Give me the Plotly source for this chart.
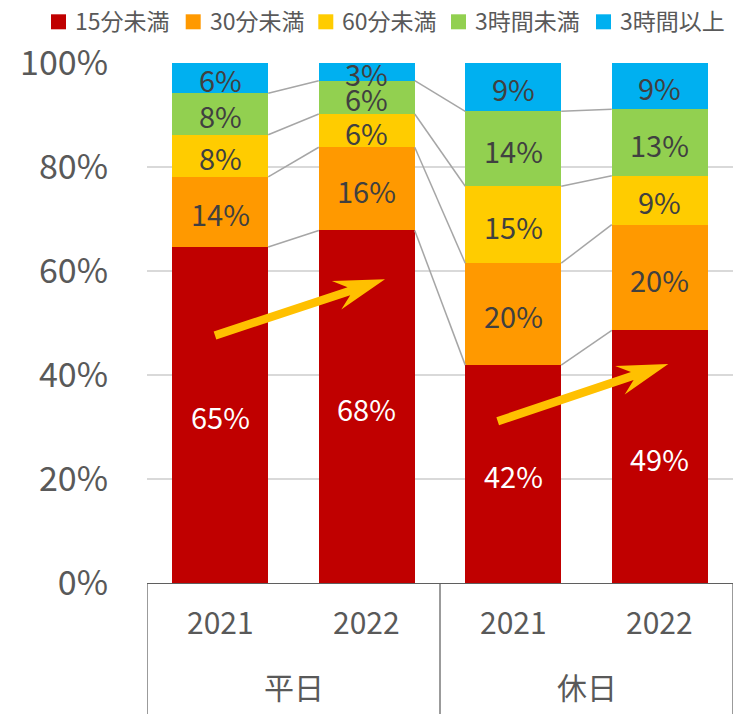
import math
import plotly.graph_objects as go

# ---- data ----
groups = ["平日", "平日", "休日", "休日"]
years = ["2021", "2022", "2021", "2022"]
series_names = ["15分未満", "30分未満", "60分未満", "3時間未満", "3時間以上"]
v_15min = [64.6, 67.8, 41.9, 48.6]
v_30min = [13.5, 16.0, 19.6, 20.3]
v_60min = [8.1, 6.4, 14.8, 9.4]
v_3h_under = [8.0, 6.4, 14.4, 12.8]
v_3h_over = [5.8, 3.4, 9.3, 8.9]
series_values = [v_15min, v_30min, v_60min, v_3h_under, v_3h_over]
colors = ["#C00000", "#FF9900", "#FFCC00", "#92D050", "#00B0F0"]
y_ticks = [0, 20, 40, 60, 80, 100]

FONT = "Noto Sans CJK JP"
W, H = 740, 714
ML, MR, MT, MB = 147, 7, 63, 131
PW, PH = W - ML - MR, H - MT - MB
BAR_W = 0.655

xs = list(range(len(years)))
fig = go.Figure()

for name, vals, col in zip(series_names, series_values, colors):
    fig.add_trace(go.Bar(
        x=xs, y=vals, name=name, width=BAR_W,
        marker=dict(color=col, line=dict(width=0)),
        showlegend=False, hoverinfo="skip",
    ))

# connector lines between adjacent bars
cum = [0.0] * len(xs)
cx, cy = [], []
for vals in series_values[:-1]:
    cum = [c + v for c, v in zip(cum, vals)]
    for i in range(len(xs) - 1):
        cx += [xs[i] + BAR_W / 2, xs[i + 1] - BAR_W / 2, None]
        cy += [cum[i], cum[i + 1], None]
fig.add_trace(go.Scatter(x=cx, y=cy, mode="lines", showlegend=False,
                         line=dict(color="#A6A6A6", width=1.5), hoverinfo="skip"))


def p2paper(px, py):
    return (px - ML) / PW, (H - MB - py) / PH


shapes = []
annotations = []

# data labels at segment centres
base = [0.0] * len(xs)
for vals, col in zip(series_values, colors):
    for i, v in enumerate(vals):
        annotations.append(dict(
            x=xs[i], y=base[i] + v / 2, xref="x", yref="y",
            text=f"{v:.0f}%", showarrow=False, yshift=-1,
            xanchor="center", yanchor="middle",
            font=dict(family=FONT, size=29,
                      color="#FFFFFF" if col == "#C00000" else "#404040")))
    base = [b + v for b, v in zip(base, vals)]

# legend (drawn manually so it stays on one row)
legend_left = [51, 185.7, 318.3, 451, 596]
for name, col, lx in zip(series_names, colors, legend_left):
    x0, y0 = p2paper(lx, 14.3)
    x1, y1 = p2paper(lx + 15, 29.3)
    shapes.append(dict(type="rect", xref="paper", yref="paper",
                       x0=x0, x1=x1, y0=y0, y1=y1, fillcolor=col,
                       line=dict(width=0)))
    tx, ty = p2paper(lx + 22, 19.5)
    annotations.append(dict(x=tx, y=ty, xref="paper", yref="paper", text=name,
                            showarrow=False, xanchor="left", yanchor="middle",
                            font=dict(family=FONT, size=23, color="#595959")))

# category labels and dividers
for i, yr in enumerate(years):
    annotations.append(dict(x=xs[i], y=p2paper(0, 621)[1], xref="x", yref="paper",
                            text=yr, showarrow=False, yanchor="middle",
                            font=dict(family=FONT, size=30, color="#595959")))
uniq = []
for g in groups:
    if g not in uniq:
        uniq.append(g)
for g in uniq:
    idx = [i for i, gg in enumerate(groups) if gg == g]
    cxm = sum(xs[i] for i in idx) / len(idx)
    annotations.append(dict(x=cxm, y=p2paper(0, 685.5)[1], xref="x", yref="paper",
                            text=g, showarrow=False, yanchor="middle",
                            font=dict(family=FONT, size=30, color="#595959")))
bounds = [xs[0] - 0.5]
for i in range(1, len(groups)):
    if groups[i] != groups[i - 1]:
        bounds.append(xs[i] - 0.5)
bounds.append(xs[-1] + 0.5)
for b in bounds:
    shapes.append(dict(type="line", xref="x", yref="paper", x0=b, x1=b,
                       y0=0, y1=p2paper(0, H + 5)[1],
                       line=dict(color="#5F5F5F", width=1.25)))


def arrow_path(tail, tip, hw=4.2, head_len=51, head_hw=15, notch=13):
    tx, ty = tail
    px, py = tip
    d = math.hypot(px - tx, py - ty)
    ux, uy = (px - tx) / d, (py - ty) / d
    nx, ny = -uy, ux
    bx, by = px - ux * head_len, py - uy * head_len
    sx, sy = px - ux * (head_len - notch), py - uy * (head_len - notch)
    pts = [
        (tx + nx * hw, ty + ny * hw),
        (sx + nx * hw, sy + ny * hw),
        (bx + nx * head_hw, by + ny * head_hw),
        (px, py),
        (bx - nx * head_hw, by - ny * head_hw),
        (sx - nx * hw, sy - ny * hw),
        (tx - nx * hw, ty - ny * hw),
    ]
    pp = [p2paper(a, b) for a, b in pts]
    return "M" + " L".join(f"{a:.5f},{b:.5f}" for a, b in pp) + " Z"


for tail, tip in [((215, 335.5), (385, 279.3)), ((497.7, 421.2), (668.3, 364))]:
    shapes.append(dict(type="path", xref="paper", yref="paper",
                       path=arrow_path(tail, tip), fillcolor="#FFC000",
                       line=dict(width=0), layer="above"))

fig.update_layout(
    barmode="stack",
    width=W, height=H,
    margin=dict(l=ML, r=MR, t=MT, b=MB, autoexpand=False),
    plot_bgcolor="white", paper_bgcolor="white",
    font=dict(family=FONT, color="#595959"),
    bargap=0,
    showlegend=False,
    xaxis=dict(range=[xs[0] - 0.5, xs[-1] + 0.5], showticklabels=False,
               showgrid=False, zeroline=False, showline=True,
               linecolor="#5F5F5F", linewidth=1.25, ticks=""),
    yaxis=dict(range=[0, 100], tickvals=y_ticks,
               ticktext=[f"{t}%" for t in y_ticks],
               showgrid=True, gridcolor="#D9D9D9", gridwidth=1.5,
               zeroline=False, showline=False, ticks="",
               ticklabelstandoff=38,
               tickfont=dict(family=FONT, size=34, color="#595959")),
    shapes=shapes,
    annotations=annotations,
    hovermode=False,
)

fig.write_html("out.html", config={"displayModeBar": False},
               post_script="document.body.style.margin='0';document.body.style.overflow='hidden';")
